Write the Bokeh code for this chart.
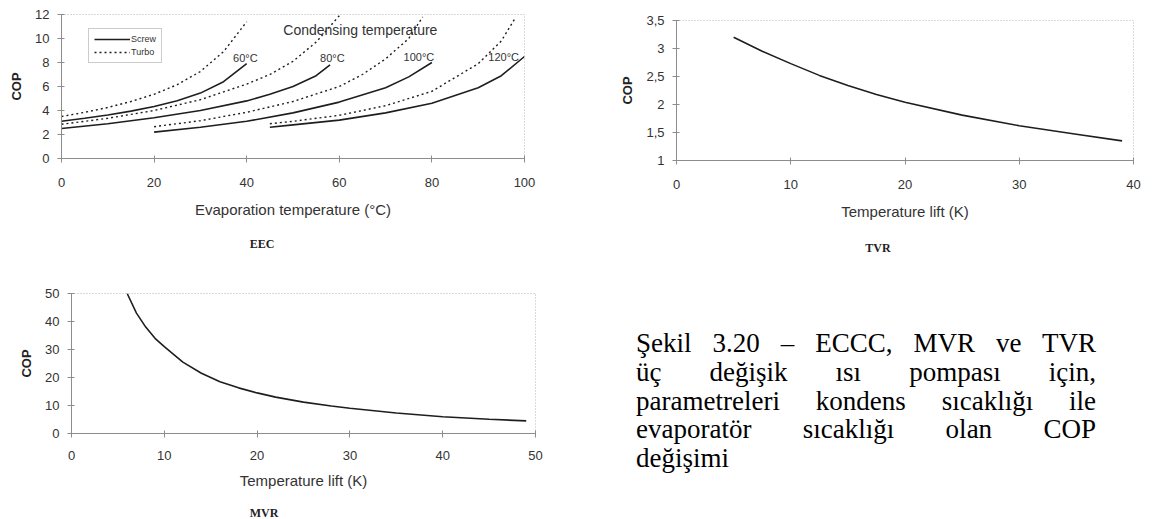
from bokeh.plotting import figure
from bokeh.models import (Legend, LegendItem, Label, FixedTicker,
                          CustomJSTickFormatter, Div, Range1d, Spacer)
from bokeh.layouts import column, row
from bokeh.core.properties import value
from bokeh.embed import file_html
from bokeh.resources import INLINE

# ---------------- data ----------------
# EEC: COP vs evaporation temperature, for condensing temperatures
screw60_x = [0, 5, 10, 15, 20, 25, 30, 35, 40]
screw60_y = [3.1, 3.35, 3.63, 3.95, 4.33, 4.82, 5.45, 6.4, 7.9]
turbo60_x = [0, 5, 10, 15, 20, 25, 30, 35, 40]
turbo60_y = [3.5, 3.85, 4.25, 4.75, 5.35, 6.15, 7.25, 8.9, 11.4]
screw80_x = [0, 10, 20, 30, 40, 45, 50, 55, 58]
screw80_y = [2.5, 2.9, 3.4, 4.0, 4.8, 5.35, 6.0, 6.9, 7.8]
turbo80_x = [0, 10, 20, 30, 40, 45, 50, 55, 60]
turbo80_y = [2.85, 3.35, 4.0, 4.9, 6.2, 7.0, 8.1, 9.7, 11.9]
screw100_x = [20, 30, 40, 50, 60, 70, 75, 80]
screw100_y = [2.2, 2.6, 3.1, 3.8, 4.7, 5.9, 6.8, 8.0]
turbo100_x = [20, 30, 40, 50, 60, 65, 70, 75, 78]
turbo100_y = [2.65, 3.15, 3.85, 4.75, 6.0, 7.0, 8.3, 10.0, 11.8]
screw120_x = [45, 50, 60, 70, 80, 90, 95, 100]
screw120_y = [2.6, 2.8, 3.2, 3.8, 4.6, 5.9, 6.9, 8.5]
turbo120_x = [45, 50, 60, 70, 80, 90, 95, 98]
turbo120_y = [2.9, 3.1, 3.6, 4.4, 5.6, 7.9, 9.8, 11.7]
cond_labels = ["60°C", "80°C", "100°C", "120°C"]
cond_label_x = [39.7, 58.5, 77.2, 95.5]
cond_label_y = [8.34, 8.34, 8.47, 8.47]
eec_xticks = [0, 20, 40, 60, 80, 100]
eec_yticks = [0, 2, 4, 6, 8, 10, 12]

# TVR: COP vs temperature lift
tvr_x = [5, 7.5, 10, 12.5, 15, 17.5, 20, 25, 30, 35, 39]
tvr_y = [3.2, 2.95, 2.73, 2.52, 2.34, 2.18, 2.04, 1.81, 1.62, 1.47, 1.35]
tvr_xticks = [0, 10, 20, 30, 40]
tvr_yticks = [1, 1.5, 2, 2.5, 3, 3.5]

# MVR: COP vs temperature lift
mvr_x = [6, 7, 8, 9, 10, 12, 14, 16, 18, 20, 22, 25, 28, 30, 35, 40, 45, 49]
mvr_y = [50, 43, 38, 34, 31, 25.5, 21.5, 18.5, 16.3, 14.5, 13.0, 11.2, 9.8,
         9.0, 7.3, 6.0, 5.1, 4.5]
mvr_xticks = [0, 10, 20, 30, 40, 50]
mvr_yticks = [0, 10, 20, 30, 40, 50]

caption_lines = ["Şekil 3.20 – ECCC, MVR ve TVR",
                 "üç değişik ısı pompası için,",
                 "parametreleri kondens sıcaklığı ile",
                 "evaporatör sıcaklığı olan COP",
                 "değişimi"]

SANS = "Liberation Sans"
SERIF = "Liberation Serif"
INK = "#1e1e1e"
AXC = "#8c8c8c"


def make_fig(w, h, xr, yr, bl, br, bt, bb, tick_sd, label_sd):
    p = figure(width=w, height=h, x_range=Range1d(*xr), y_range=Range1d(*yr),
               output_backend="svg", toolbar_location=None,
               min_border_left=bl, min_border_right=br,
               min_border_top=bt, min_border_bottom=bb)
    p.xgrid.visible = False
    p.ygrid.visible = False
    p.outline_line_color = "#b4b4b4"
    p.outline_line_dash = "1 2"
    p.background_fill_color = "white"
    p.border_fill_color = "white"
    for ax in (p.xaxis[0], p.yaxis[0]):
        ax.axis_line_color = AXC
        ax.major_tick_line_color = AXC
        ax.major_tick_in = 3
        ax.major_tick_out = 4
        ax.minor_tick_line_color = None
        ax.major_label_text_font = SANS
        ax.major_label_text_font_size = "13px"
        ax.major_label_text_color = "#333333"
        ax.axis_label_text_color = "#333333"
    p.xaxis.major_label_standoff = tick_sd
    p.yaxis.major_label_standoff = 8
    p.xaxis.axis_label_text_font = SANS
    p.xaxis.axis_label_text_font_size = "15px"
    p.xaxis.axis_label_text_font_style = "normal"
    p.xaxis.axis_label_standoff = label_sd
    p.yaxis.axis_label = "COP"
    p.yaxis.axis_label_text_font = SANS
    p.yaxis.axis_label_text_font_size = "13px"
    p.yaxis.axis_label_text_font_style = "bold"
    p.yaxis.axis_label_text_color = "#222222"
    p.yaxis.axis_label_standoff = 8
    return p


def caption_div(text, cx, height, line_h):
    html = (f'<div style="margin-left:{cx - 30}px;width:60px;'
            f'text-align:center;font-family:\'{SERIF}\';font-size:12px;'
            f'font-weight:bold;line-height:{line_h}px;color:#222222;">'
            f'{text}</div>')
    return Div(text=html, width=578, height=height, margin=0)


# ---------------- EEC ----------------
p1 = make_fig(578, 236, (0, 100), (0, 12), 61, 54, 14, 78, 15, 11)
p1.xaxis.ticker = FixedTicker(ticks=eec_xticks)
p1.yaxis.ticker = FixedTicker(ticks=eec_yticks)
p1.xaxis.axis_label = "Evaporation temperature (°C)"

solid = dict(line_color=INK, line_width=1.6)
dotted = dict(line_color=INK, line_width=1.4, line_dash="2 3")
rs = []
rt = []
for sx, sy, tx, ty in [(screw60_x, screw60_y, turbo60_x, turbo60_y),
                       (screw80_x, screw80_y, turbo80_x, turbo80_y),
                       (screw100_x, screw100_y, turbo100_x, turbo100_y),
                       (screw120_x, screw120_y, turbo120_x, turbo120_y)]:
    rs.append(p1.line(sx, sy, **solid))
    rt.append(p1.line(tx, ty, **dotted))

legend = Legend(items=[LegendItem(label="Screw", renderers=[rs[0]]),
                       LegendItem(label="Turbo", renderers=[rt[0]])],
                location=(27, 95))
legend.label_text_font = SANS
legend.label_text_font_size = "9px"
legend.label_text_color = "#333333"
legend.glyph_width = 36
legend.glyph_height = 8
legend.label_standoff = 1
legend.label_height = 10
legend.padding = 5
legend.spacing = 3
legend.margin = 0
legend.border_line_color = "#9a9a9a"
legend.border_line_width = 1
p1.add_layout(legend)

p1.add_layout(Label(x=47.9, y=10.75, text="Condensing temperature",
                    text_font=SANS, text_font_size="14px",
                    text_color="#333333", text_baseline="middle"))
p1.text(x=cond_label_x, y=cond_label_y, text=cond_labels,
        text_font=value(SANS), text_font_size="11px", text_color="#333333",
        text_align="center", text_baseline="middle")
cap1 = caption_div("EEC", 262, 22, 14)

# ---------------- TVR ----------------
p2 = make_fig(578, 234, (0, 40), (1, 3.5), 98, 23, 14, 80, 15, 11)
p2.xaxis.ticker = FixedTicker(ticks=tvr_xticks)
p2.yaxis.ticker = FixedTicker(ticks=tvr_yticks)
p2.yaxis.formatter = CustomJSTickFormatter(
    code="return tick.toString().replace('.', ',');")
p2.xaxis.axis_label = "Temperature lift (K)"
p2.line(tvr_x, tvr_y, line_color=INK, line_width=1.6)
cap2 = caption_div("TVR", 300, 18, 9)

# ---------------- MVR ----------------
p3 = make_fig(578, 247, (0, 50), (0, 50), 71, 43, 35, 72, 13, 9)
p3.xaxis.ticker = FixedTicker(ticks=mvr_xticks)
p3.yaxis.ticker = FixedTicker(ticks=mvr_yticks)
p3.xaxis.axis_label = "Temperature lift (K)"
p3.line(mvr_x, mvr_y, line_color=INK, line_width=1.6)
cap3 = caption_div("MVR", 264, 14, 12)

# ---------------- caption text ----------------
rows_html = []
for i, ln in enumerate(caption_lines):
    last = "left" if i == len(caption_lines) - 1 else "justify"
    rows_html.append(
        f'<div style="text-align:justify;text-align-last:{last};'
        f'white-space:nowrap;">{ln}</div>')
html = ('<div style="margin-left:58px;margin-top:71px;width:460px;'
        f'font-family:\'{SERIF}\';font-size:27px;line-height:28.75px;'
        'color:#000;">' + "".join(rows_html) + '</div>')
div = Div(text=html, width=578, height=261, margin=0)

left_top = column(p1, cap1)
right_top = column(Spacer(width=578, height=6, margin=0), p2, cap2)
left_bottom = column(p3, cap3)
layout = column(row(left_top, right_top), row(left_bottom, div))
open("out.html", "w").write(file_html(layout, INLINE))
